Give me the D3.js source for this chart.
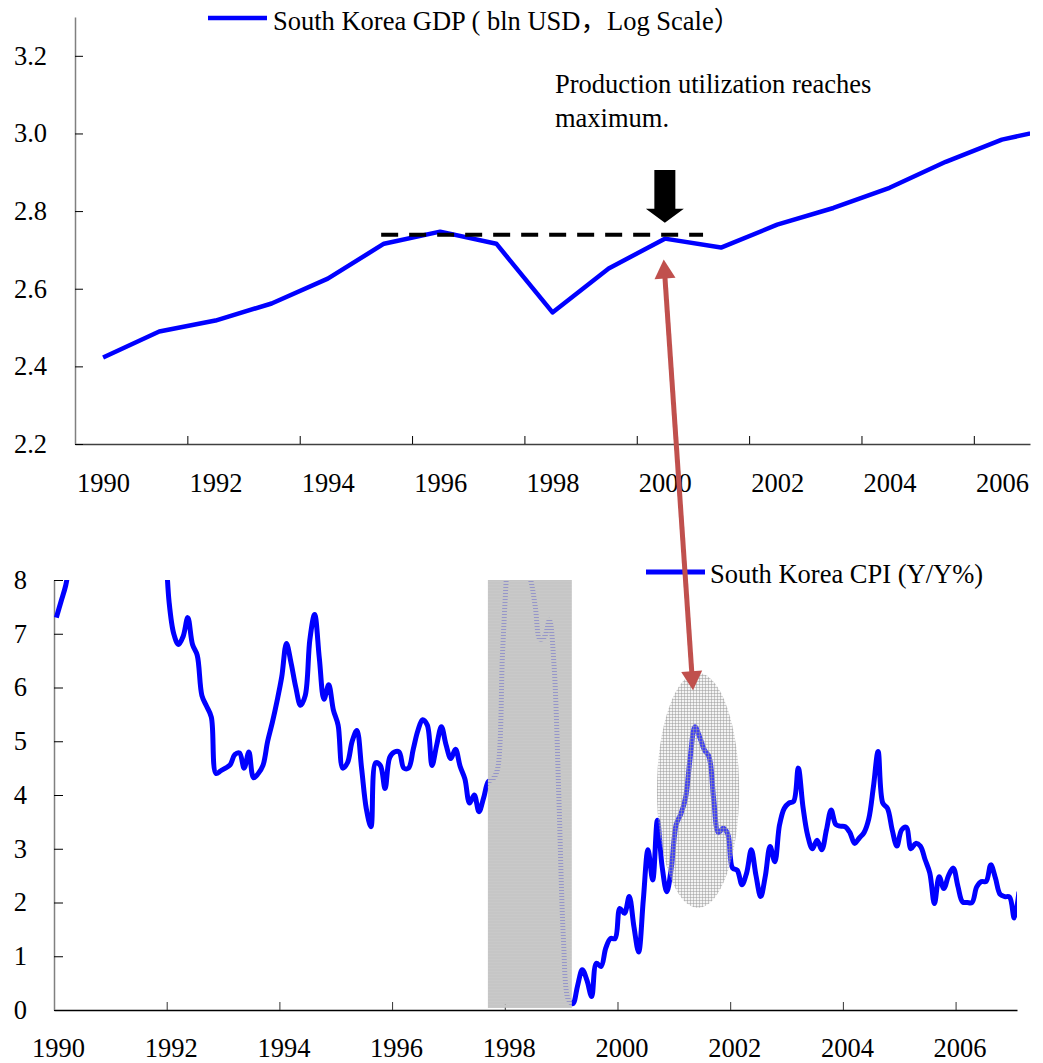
<!DOCTYPE html>
<html>
<head>
<meta charset="utf-8">
<script src="https://cdn.jsdelivr.net/npm/d3@7"></script>
<style>
  body { margin: 0; background: #fff; }
  svg text { font-family: "Liberation Serif", "Times New Roman", "Noto Sans CJK SC", serif; font-size: 26.5px; fill: #000; }
</style>
</head>
<body>
<div id="chart"></div>
<script>
// GDP, log10 of bln USD, one value per year
var gdpYears = d3.range(1990, 2008);
var gdpLog = [2.423, 2.490, 2.518, 2.562, 2.626, 2.716, 2.747, 2.716, 2.539,
              2.652, 2.729, 2.706, 2.765, 2.808, 2.860, 2.927, 2.984, 3.016];
var gdpTicks = [2.2, 2.4, 2.6, 2.8, 3.0, 3.2];
var yearTicks = [1990, 1992, 1994, 1996, 1998, 2000, 2002, 2004, 2006];

// CPI Y/Y %, monthly from Jan 1990
var cpiStart = 1990;
var cpi = [
  7.3, 7.6, 7.9, 8.4, 8.7, 8.9, 9.0, 9.3, 9.6, 9.9, 9.7, 9.4,            // 1990
  9.6, 9.9, 10.1, 9.9, 10.0, 9.8, 9.6, 9.4, 9.2, 9.0, 9.7, 9.0,          // 1991
  7.6, 7.0, 6.8, 6.95, 7.3, 6.8, 6.6, 5.85, 5.65, 5.45, 4.4, 4.45,       // 1992
  4.5, 4.56, 4.75, 4.78, 4.5, 4.8, 4.32, 4.4, 4.55, 5.0, 5.35, 5.75,     // 1993
  6.2, 6.82, 6.45, 6.0, 5.67, 5.85, 6.9, 7.36, 6.55, 5.78, 6.05, 5.58,   // 1994
  5.3, 4.5, 4.6, 5.0, 5.2, 4.5, 3.75, 3.41, 4.6, 4.55, 4.12, 4.7,        // 1995
  4.8, 4.8, 4.5, 4.5, 4.85, 5.2, 5.4, 5.3, 4.55, 4.93, 5.27, 4.93,       // 1996
  4.68, 4.85, 4.53, 4.3, 3.85, 4.0, 3.69, 3.95, 4.25, 4.3, 4.5, 6.6,     // 1997
  8.3, 9.5, 9.0, 8.8, 8.2, 8.0, 7.5, 6.9, 6.95, 7.25, 6.4, 4.0,          // 1998
  1.3, 0.2, 0.12, 0.45, 0.75, 0.55, 0.25, 0.87, 0.81, 1.15, 1.33, 1.33,  // 1999
  1.89, 1.8, 2.11, 1.55, 1.08, 2.05, 2.98, 2.42, 3.53, 2.67, 2.2, 2.67,  // 2000
  3.45, 3.65, 3.95, 4.71, 5.27, 5.08, 4.84, 4.71, 3.91, 3.3, 3.38, 3.27, // 2001
  2.64, 2.6, 2.33, 2.55, 2.98, 2.5, 2.11, 2.5, 3.04, 2.76, 3.44, 3.75,   // 2002
  3.85, 3.88, 4.5, 3.78, 3.25, 3.0, 3.16, 2.98, 3.35, 3.72, 3.45, 3.42,  // 2003
  3.41, 3.3, 3.1, 3.2, 3.3, 3.55, 4.15, 4.81, 3.85, 3.75, 3.35, 3.05,    // 2004
  3.35, 3.4, 3.0, 3.1, 3.05, 2.8, 2.55, 1.98, 2.48, 2.26, 2.5, 2.64,     // 2005
  2.3, 2.01, 2.0, 2.0, 2.29, 2.39, 2.39, 2.7, 2.45, 2.15, 2.11, 2.1,     // 2006
  1.71, 2.2                                                              // 2007
];
var cpiTicks = [0, 1, 2, 3, 4, 5, 6, 7, 8];

// annotations (data units)
var peakLevel = 2.739, peakSpan = [1995.45, 2001.18];
var crisisSpan = [1997.70, 1999.19];
var focusX = [2000.70, 2002.16], focusY = [1.9, 6.27];
var linkFrom = [2000.48, 2.675], linkTo = [2001.34, 5.95];

var serif = '"Liberation Serif", "Times New Roman", "Noto Sans CJK SC", serif';

var W = 1043, H = 1063;
var svg = d3.select("#chart").append("svg").attr("width", W).attr("height", H);
var defs = svg.append("defs");

// textures
var shadeTex = defs.append("pattern").attr("id", "shadeTex")
  .attr("patternUnits", "userSpaceOnUse").attr("width", 3).attr("height", 3);
shadeTex.append("rect").attr("width", 3).attr("height", 2).attr("fill", "#c6c6c6");
shadeTex.append("rect").attr("y", 2).attr("width", 3).attr("height", 1).attr("fill", "#bcbcbc").attr("fill-opacity", 0.8);

var meshTex = defs.append("pattern").attr("id", "meshTex")
  .attr("patternUnits", "userSpaceOnUse").attr("width", 3).attr("height", 3);
meshTex.append("rect").attr("width", 3).attr("height", 3).attr("fill", "#dcdcdc").attr("fill-opacity", 0.3);
meshTex.append("rect").attr("width", 3).attr("height", 1).attr("fill", "#9a9a9a").attr("fill-opacity", 0.5);
meshTex.append("rect").attr("width", 1).attr("height", 3).attr("fill", "#9a9a9a").attr("fill-opacity", 0.5);

function serifText(g) {
  g.attr("font-family", null).attr("font-size", null);
  g.selectAll("text").style("font-family", serif).style("font-size", "26.5px").attr("fill", "#000");
}

// ---------- top chart: GDP ----------
var xTop = d3.scaleLinear().domain([1990, 2007]).range([75, 1030]);
var yTop = d3.scaleLinear().domain([2.2, 3.3]).range([444, 17]);

defs.append("clipPath").attr("id", "clipTop").append("rect")
  .attr("x", 75).attr("y", 17).attr("width", 955).attr("height", 427);

var gTop = svg.append("g");

gTop.append("g").attr("transform", "translate(0,444)")
  .call(d3.axisBottom(xTop).tickValues(yearTicks).tickSizeInner(-8).tickSizeOuter(0).tickFormat(""))
  .call(g => g.select(".domain").attr("stroke", "#404040").attr("stroke-width", 1.5))
  .call(g => g.selectAll(".tick line").attr("stroke", "#000"));

gTop.append("g").attr("transform", "translate(0,444)")
  .call(d3.axisBottom(xTop).tickValues(yearTicks.map(d => d + 0.5)).tickSize(0).tickPadding(29)
    .tickFormat(d => Math.floor(d)))
  .call(g => g.select(".domain").remove())
  .call(serifText);

gTop.append("g").attr("transform", "translate(75,0)")
  .call(d3.axisLeft(yTop).tickValues(gdpTicks).tickSizeInner(-8).tickSizeOuter(0).tickPadding(28)
    .tickFormat(d3.format(".1f")))
  .call(g => g.select(".domain").attr("stroke", "#808080").attr("stroke-width", 1.5))
  .call(g => g.selectAll(".tick line").attr("stroke", "#000"))
  .call(serifText);

var gdpData = gdpYears.map((y, i) => ({ t: y + 0.5, v: gdpLog[i] }));
gTop.append("path").datum(gdpData)
  .attr("clip-path", "url(#clipTop)")
  .attr("fill", "none").attr("stroke", "#0000ff").attr("stroke-width", 4.5)
  .attr("stroke-linejoin", "round")
  .attr("d", d3.line().x(d => xTop(d.t)).y(d => yTop(d.v)));

// plateau line
gTop.append("line")
  .attr("x1", xTop(peakSpan[0])).attr("x2", xTop(peakSpan[1]))
  .attr("y1", yTop(peakLevel)).attr("y2", yTop(peakLevel))
  .attr("stroke", "#000").attr("stroke-width", 4).attr("stroke-dasharray", "17 11");

// block arrow pointing at the 2000 peak
(function () {
  var cx = xTop(2000.5), tip = yTop(2.77), tail = yTop(2.906), headH = 14, sw = 10.5, hw = 19;
  gTop.append("path")
    .attr("d", "M" + (cx - sw) + "," + tail + "H" + (cx + sw) + "V" + (tip - headH) + "H" + (cx + hw) +
      "L" + cx + "," + tip + "L" + (cx - hw) + "," + (tip - headH) + "H" + (cx - sw) + "Z")
    .attr("fill", "#000");
})();

gTop.append("text").attr("x", 555).attr("y", 93).text("Production utilization reaches");
gTop.append("text").attr("x", 555).attr("y", 127).text("maximum.");

// legend
gTop.append("line").attr("x1", 208).attr("x2", 267).attr("y1", 18).attr("y2", 18)
  .attr("stroke", "#0000ff").attr("stroke-width", 4.5);
gTop.append("text").attr("x", 273).attr("y", 30).text("South Korea GDP ( bln USD，Log Scale）");

// ---------- bottom chart: CPI ----------
var xBot = d3.scaleLinear().domain([1990, 2007.09]).range([54, 1017]);
var yBot = d3.scaleLinear().domain([0, 8]).range([1010, 580]);

defs.append("clipPath").attr("id", "clipBot").append("rect")
  .attr("x", 54).attr("y", 580).attr("width", 963).attr("height", 430);

var gBot = svg.append("g");

gBot.append("g").attr("transform", "translate(0,1010)")
  .call(d3.axisBottom(xBot).tickValues(yearTicks).tickSizeInner(-8).tickSizeOuter(0).tickPadding(28)
    .tickFormat(d3.format("d")))
  .call(g => g.select(".domain").attr("stroke", "#000").attr("stroke-width", 1.5))
  .call(g => g.selectAll(".tick line").attr("stroke", "#333"))
  .call(serifText)
  .call(g => g.selectAll("text").attr("x", 4));

gBot.append("g").attr("transform", "translate(54,0)")
  .call(d3.axisLeft(yBot).tickValues(cpiTicks).tickSizeInner(-9).tickSizeOuter(0).tickPadding(27))
  .call(g => g.select(".domain").attr("stroke", "#808080").attr("stroke-width", 1.5))
  .call(g => g.selectAll(".tick line").attr("stroke", "#000"))
  .call(serifText);

var cpiData = cpi.map((v, i) => ({ t: cpiStart + (i + 0.5) / 12, v: v }));
gBot.append("path").datum(cpiData)
  .attr("clip-path", "url(#clipBot)")
  .attr("fill", "none").attr("stroke", "#0000ff").attr("stroke-width", 5)
  .attr("stroke-linejoin", "round")
  .attr("d", d3.line().curve(d3.curveCatmullRom.alpha(0.5)).x(d => xBot(d.t)).y(d => yBot(d.v)));

// crisis shading
gBot.append("rect")
  .attr("x", xBot(crisisSpan[0])).attr("width", xBot(crisisSpan[1]) - xBot(crisisSpan[0]))
  .attr("y", yBot(8)).attr("height", yBot(0) - yBot(8) - 2)
  .attr("fill", "url(#shadeTex)");

// focus ellipse
gBot.append("ellipse")
  .attr("cx", (xBot(focusX[0]) + xBot(focusX[1])) / 2)
  .attr("cy", (yBot(focusY[0]) + yBot(focusY[1])) / 2)
  .attr("rx", (xBot(focusX[1]) - xBot(focusX[0])) / 2)
  .attr("ry", (yBot(focusY[0]) - yBot(focusY[1])) / 2)
  .attr("fill", "url(#meshTex)");

// legend
gBot.append("line").attr("x1", 646).attr("x2", 705).attr("y1", 572).attr("y2", 572)
  .attr("stroke", "#0000ff").attr("stroke-width", 5);
gBot.append("text").attr("x", 710).attr("y", 583).text("South Korea CPI (Y/Y%)");

// ---------- double-headed link arrow ----------
(function () {
  var a = [xTop(linkFrom[0]), yTop(linkFrom[1])];
  var b = [xBot(linkTo[0]), yBot(linkTo[1])];
  var dx = b[0] - a[0], dy = b[1] - a[1], len = Math.hypot(dx, dy);
  var ux = dx / len, uy = dy / len, px = -uy, py = ux;
  var hl = 19, hw = 10.5;
  var col = "#c0504d";
  svg.append("line")
    .attr("x1", a[0] + ux * (hl - 2)).attr("y1", a[1] + uy * (hl - 2))
    .attr("x2", b[0] - ux * (hl - 2)).attr("y2", b[1] - uy * (hl - 2))
    .attr("stroke", col).attr("stroke-width", 5);
  function head(tip, dir) {
    var bx = tip[0] + dir * ux * hl, by = tip[1] + dir * uy * hl;
    svg.append("path")
      .attr("d", "M" + tip[0] + "," + tip[1] + "L" + (bx + px * hw) + "," + (by + py * hw) +
        "L" + (bx - px * hw) + "," + (by - py * hw) + "Z")
      .attr("fill", col);
  }
  head(a, 1);
  head(b, -1);
})();
</script>
</body>
</html>
